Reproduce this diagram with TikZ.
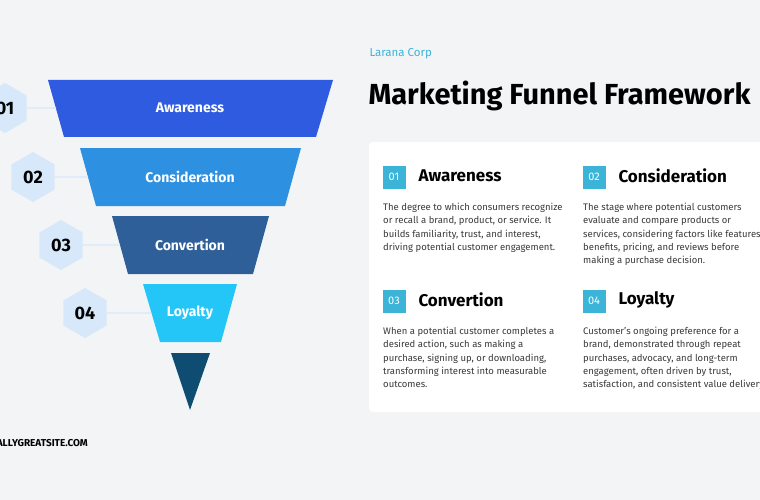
\documentclass[tikz,border=0pt]{standalone}
\usepackage{fontspec}
\setmainfont{Fira Sans}
\usetikzlibrary{shapes.geometric}
\definecolor{PageGray}{HTML}{F3F4F6}
\definecolor{HexBlue}{HTML}{D6E8FA}
\definecolor{StageA}{HTML}{2F5BE0}
\definecolor{StageB}{HTML}{2E90E0}
\definecolor{StageC}{HTML}{2E5F98}
\definecolor{StageD}{HTML}{24C6F7}
\definecolor{StageE}{HTML}{0E4C72}
\definecolor{Teal}{HTML}{3BB4D8}
\definecolor{BodyGray}{HTML}{3A3A3A}

\begin{document}
\begin{tikzpicture}[x=1pt,y=-1pt,
    hexa/.style={regular polygon, regular polygon sides=6, shape border rotate=30, minimum size=50pt, inner sep=0pt, fill=HexBlue, font=\bfseries\fontsize{18}{18}\selectfont},
    link/.style={draw=HexBlue, line width=1.2pt},
    stage/.style={text=white, font=\fontsize{14}{14}\selectfont\bfseries},
    numbox/.style={fill=Teal, text=white, minimum size=23pt, inner sep=0pt, font=\fontsize{11}{11}\selectfont},
    heading/.style={anchor=west, font=\fontsize{17}{17}\selectfont\bfseries},
    bodytext/.style={anchor=north west, inner sep=0pt, align=left, text=BodyGray, font=\fontsize{9.5}{13.3}\selectfont}]
    % frame and background
    \useasboundingbox (0,0) rectangle (760,500);
    \clip (0,0) rectangle (760,500);
    \fill[PageGray] (0,0) rectangle (760,500);

    % funnel stages
    \fill[StageA] (48,80) -- (333,80) -- (316,137) -- (64,137) -- cycle;
    \fill[StageB] (80,148) -- (301,148) -- (285,206) -- (96,206) -- cycle;
    \fill[StageC] (112,216) -- (269,216) -- (253,274) -- (128,274) -- cycle;
    \fill[StageD] (143,284) -- (237,284) -- (221,342) -- (160,342) -- cycle;
    \fill[StageE] (171,353) -- (210,353) -- (190,410) -- cycle;
    \node[stage] (aware) at (190,108) {Awareness};
    \node[stage] (consid) at (190,177) {Consideration};
    \node[stage] (conv) at (190,245) {Convertion};
    \node[stage] (loyal) at (190,313) {Loyalty};
    \coordinate (edgeA) at (56,108);
    \coordinate (edgeB) at (88,177);
    \coordinate (edgeC) at (120,245);
    \coordinate (edgeD) at (151,313);

    % step badges
    \node[hexa] (hexA) at (5,108) {01};
    \node[hexa] (hexB) at (33,177) {02};
    \node[hexa] (hexC) at (61,245) {03};
    \node[hexa] (hexD) at (85,313) {04};
    \draw[link] (hexA.east) -- (edgeA);
    \draw[link] (hexB.east) -- (edgeB);
    \draw[link] (hexC.east) -- (edgeC);
    \draw[link] (hexD.east) -- (edgeD);

    % title
    \node[anchor=west, text=Teal, font=\fontsize{11.5}{12}\selectfont] (corp) at (366,54) {Larana Corp};
    \node[anchor=west, font=\fontsize{29}{29}\selectfont\bfseries] (title) at (365,96) {Marketing Funnel Framework};

    % card
    \fill[white, rounded corners=4pt] (369,142) rectangle (790,412);
    \node[numbox] (n1) at (394,177) {01};
    \node[heading] (h1) at (415,176) {Awareness};
    \node[bodytext] (b1) at (383,203) {The degree to which consumers recognize\\or recall a brand, product, or service. It\\builds familiarity, trust, and interest,\\driving potential customer engagement.};
    \node[numbox] (n2) at (594,177) {02};
    \node[heading] (h2) at (615,176) {Consideration};
    \node[bodytext] (b2) at (583,203) {The stage where potential customers\\evaluate and compare products or\\services, considering factors like features,\\benefits, pricing, and reviews before\\making a purchase decision.};
    \node[numbox] (n3) at (394,301) {03};
    \node[heading] (h3) at (415,300) {Convertion};
    \node[bodytext] (b3) at (383,327) {When a potential customer completes a\\desired action, such as making a\\purchase, signing up, or downloading,\\transforming interest into measurable\\outcomes.};
    \node[numbox] (n4) at (594,301) {04};
    \node[heading] (h4) at (615,300) {Loyalty};
    \node[bodytext] (b4) at (583,327) {Customer's ongoing preference for a\\brand, demonstrated through repeat\\purchases, advocacy, and long-term\\engagement, often driven by trust,\\satisfaction, and consistent value delivery.};

    % footer
    \node[anchor=east, inner sep=0pt, font=\fontsize{10}{10}\selectfont\bfseries] (site) at (88,443) {REALLYGREATSITE.COM};
\end{tikzpicture}
\end{document}
